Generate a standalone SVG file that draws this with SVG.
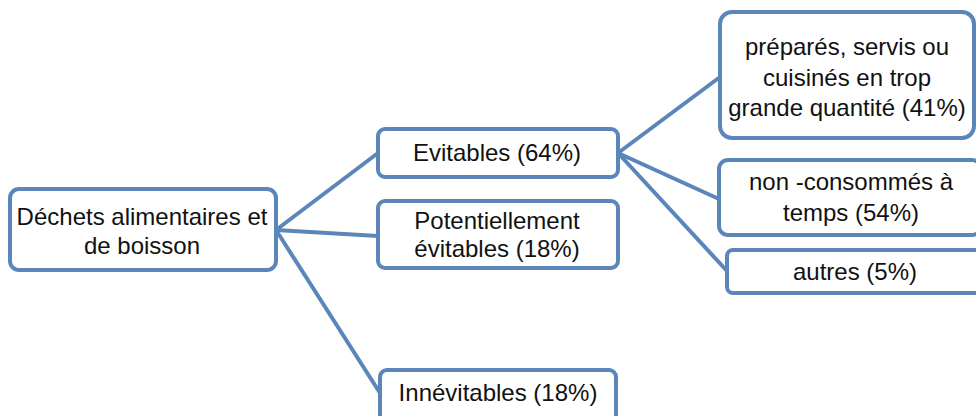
<svg xmlns="http://www.w3.org/2000/svg" width="976" height="416" viewBox="0 0 976 416">
  <style>
    .box { fill: #ffffff; stroke: #5a86ba; stroke-width: 4; }
    .link { stroke: #5a86ba; stroke-width: 4; fill: none; stroke-linecap: round; }
    .lbl { font-family: "Liberation Sans", Arial, sans-serif; font-size: 24px; fill: #111111; text-anchor: middle; }
  </style>
  <rect width="976" height="416" fill="#ffffff"/>
  <g id="connectors">
    <line class="link" x1="276" y1="230" x2="378" y2="153"/>
    <line class="link" x1="276" y1="230" x2="378" y2="236"/>
    <line class="link" x1="276" y1="230" x2="380" y2="393"/>
    <line class="link" x1="618" y1="153" x2="720" y2="77"/>
    <line class="link" x1="618" y1="153" x2="719" y2="199"/>
    <line class="link" x1="618" y1="153" x2="727" y2="271"/>
  </g>
  <g id="root">
    <rect class="box" x="10" y="189" width="266" height="81" rx="9"/>
    <text class="lbl" x="142" y="225">Déchets alimentaires et</text>
    <text class="lbl" x="142" y="254">de boisson</text>
  </g>
  <g id="evitables">
    <rect class="box" x="378" y="129" width="240" height="48" rx="7"/>
    <text class="lbl" x="497" y="161">Evitables (64%)</text>
  </g>
  <g id="potentiellement">
    <rect class="box" x="378" y="201" width="240" height="67" rx="7"/>
    <text class="lbl" x="497" y="229">Potentiellement</text>
    <text class="lbl" x="497" y="257">évitables (18%)</text>
  </g>
  <g id="innevitables">
    <rect class="box" x="380" y="370" width="236" height="60" rx="7"/>
    <text class="lbl" x="498" y="401">Innévitables (18%)</text>
  </g>
  <g id="trop-grande-quantite">
    <rect class="box" x="720" y="12" width="254" height="126" rx="12"/>
    <text class="lbl" x="847" y="55">préparés, servis ou</text>
    <text class="lbl" x="847" y="86">cuisinés en trop</text>
    <text class="lbl" x="847" y="116">grande quantité (41%)</text>
  </g>
  <g id="non-consommes">
    <rect class="box" x="719" y="160" width="262" height="75" rx="9"/>
    <text class="lbl" x="851" y="190">non -consommés à</text>
    <text class="lbl" x="851" y="221">temps (54%)</text>
  </g>
  <g id="autres">
    <rect class="box" x="727" y="250" width="254" height="43" rx="6"/>
    <text class="lbl" x="855" y="280">autres (5%)</text>
  </g>
</svg>
